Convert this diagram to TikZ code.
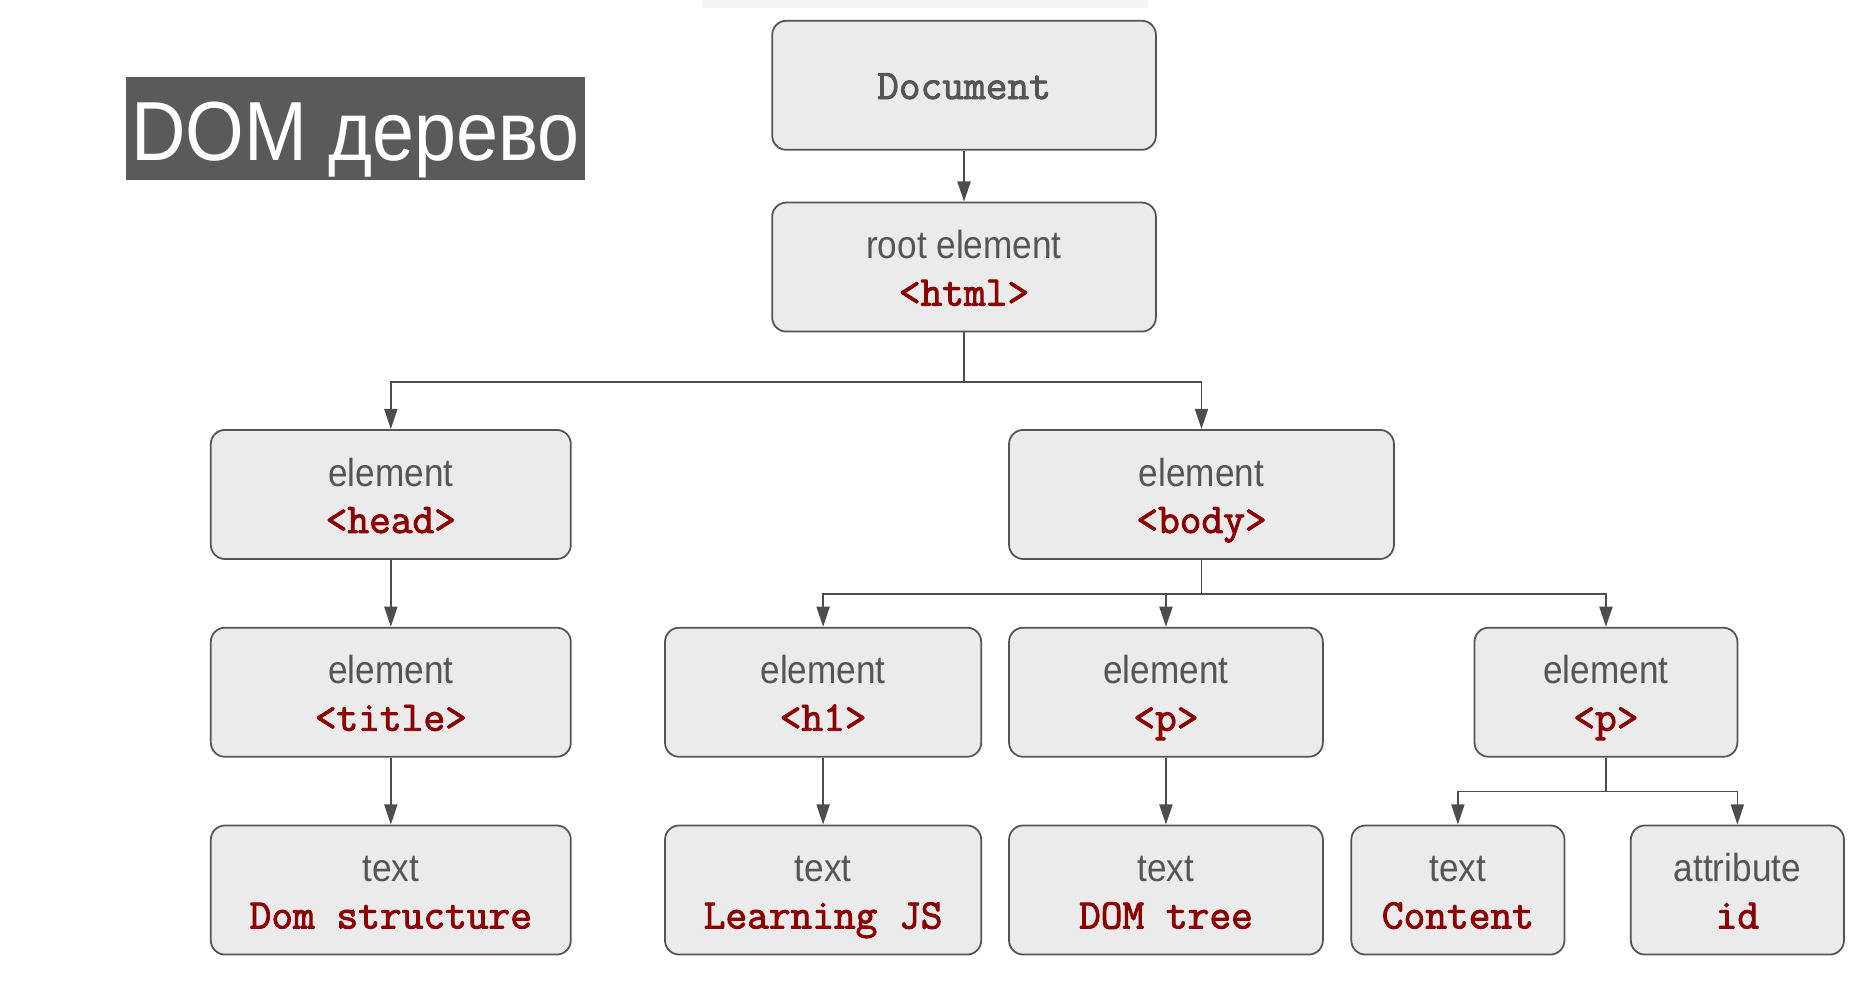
\documentclass[tikz,border=0pt]{standalone}
\usepackage{fontspec}
\usepackage{tikz}
\usetikzlibrary{arrows.meta}
\newfontfamily\labelfont[FakeStretch=0.9]{Liberation Sans}
\newfontfamily\tagfont[FakeBold=2.2]{Latin Modern Mono}
\definecolor{boxfill}{HTML}{EBEBEB}
\definecolor{boxline}{HTML}{555555}
\definecolor{linkcol}{HTML}{4D4D4D}
\definecolor{labelgray}{HTML}{555555}
\definecolor{tagred}{HTML}{8B0000}
\definecolor{titlebg}{HTML}{5A5A5A}
\definecolor{topbar}{HTML}{F4F4F4}
\newcommand{\boxtext}[2]{\begin{tabular}[t]{@{}c@{}}{\labelfont #1}\\{\tagfont\fontsize{17.8pt}{19.75pt}\selectfont\color{tagred}#2}\end{tabular}}

\begin{document}
\begin{tikzpicture}[x=0.5pt,y=-0.5pt,
    domnode/.style={shape=rectangle,rounded corners=6pt,draw=boxline,line width=0.75pt,fill=boxfill,
        inner sep=0pt,minimum height=54.5pt,text=labelgray,
        font=\fontsize{16.5pt}{19.75pt}\selectfont,text height=10pt,text depth=17pt},
    link/.style={draw=linkcol,line width=0.75pt,-{Triangle[length=8.5pt,width=5.5pt]}}]
    \useasboundingbox (0,0) rectangle (1568,839.3);
    \fill[topbar] (594,0) rectangle (969,6.7);

    \node[shape=rectangle,fill=titlebg,text=white,inner sep=0pt,minimum width=194pt,minimum height=43.5pt,
        font=\labelfont\fontsize{35.4pt}{40pt}\selectfont,text height=26.5pt,text depth=0pt] (title) at (300,108.9) {DOM дерево};

    \node[domnode,minimum width=162pt,font=\tagfont\fontsize{17.8pt}{18pt}\selectfont,
        text height=11.6pt,text depth=0pt] (Doc) at (814,72) {Document};
    \node[domnode,minimum width=162pt] (Html) at (814,225.5) {\boxtext{root element}{<html>}};

    \node[domnode,minimum width=152pt] (Head) at (330,417.5) {\boxtext{element}{<head>}};
    \node[domnode,minimum width=162.5pt] (Body) at (1014.5,417.5) {\boxtext{element}{<body>}};

    \node[domnode,minimum width=152pt] (Title) at (330,584.5) {\boxtext{element}{<title>}};
    \node[domnode,minimum width=133.5pt] (H1) at (695,584.5) {\boxtext{element}{<h1>}};
    \node[domnode,minimum width=132.5pt] (P_A) at (984.5,584.5) {\boxtext{element}{<p>}};
    \node[domnode,minimum width=111pt] (P_B) at (1356,584.5) {\boxtext{element}{<p>}};

    \node[domnode,minimum width=152pt] (T_title) at (330,751.5) {\boxtext{text}{Dom structure}};
    \node[domnode,minimum width=133.5pt] (T_h1) at (695,751.5) {\boxtext{text}{Learning JS}};
    \node[domnode,minimum width=132.5pt] (T_pa) at (984.5,751.5) {\boxtext{text}{DOM tree}};
    \node[domnode,minimum width=90pt] (T_pb) at (1231,751.5) {\boxtext{text}{Content}};
    \node[domnode,minimum width=90pt] (A_pb) at (1467,751.5) {\boxtext{attribute}{id}};

    \draw[link] (Doc) -- (Html);

    \draw[link] (Html.south) -- ++(0,41.5) -| (Head.north);
    \draw[link] (Html.south) -- ++(0,41.5) -| (Body.north);

    \draw[link] (Head) -- (Title);
    \draw[link] (Body.south) -- ++(0,28.5) -| (H1.north);
    \draw[link] (Body.south) -- ++(0,28.5) -| (P_A.north);
    \draw[link] (Body.south) -- ++(0,28.5) -| (P_B.north);

    \draw[link] (Title) -- (T_title);
    \draw[link] (H1) -- (T_h1);
    \draw[link] (P_A) -- (T_pa);
    \draw[link] (P_B.south) -- ++(0,28.6) -| (T_pb.north);
    \draw[link] (P_B.south) -- ++(0,28.6) -| (A_pb.north);
\end{tikzpicture}
\end{document}
